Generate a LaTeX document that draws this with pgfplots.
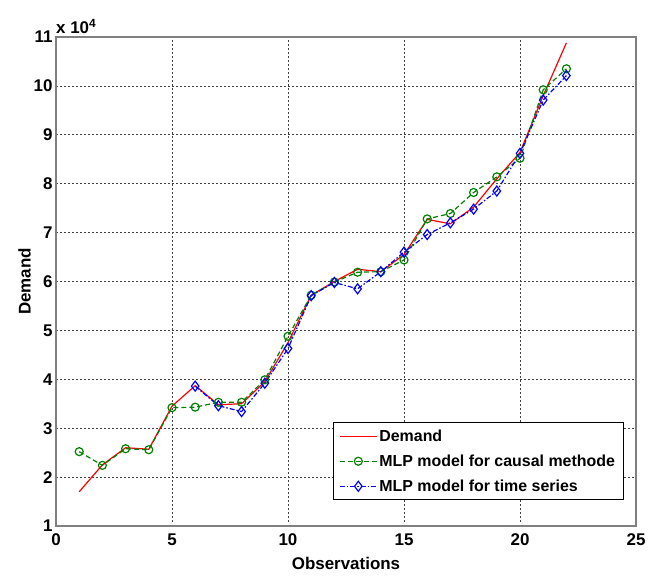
\documentclass[border=0pt]{standalone}
\usepackage{pgfplots}
\pgfplotsset{compat=1.18}
\usetikzlibrary{calc}
\usepackage{fontspec}
\setmainfont{Liberation Sans}
\definecolor{mgreen}{RGB}{0,128,0}
\begin{document}
\begin{tikzpicture}
\begin{axis}[
    name=ax,
    scale only axis,
    width=580bp, height=489bp,
    xmin=0, xmax=25, ymin=1, ymax=11,
    xtick={0,5,...,25}, ytick={1,2,...,11},
    /pgf/number format/assume math mode=true,
    ticklabel style={font=\fontsize{17}{20}\selectfont\bfseries},
    xticklabel style={yshift=-4bp},
    major tick length=0pt,
    axis line style={gray, line width=1.2bp},
    grid=major,
    major grid style={black!75, line width=0.7bp, dash pattern=on 1.5bp off 2.5bp},
    xlabel={Observations}, ylabel={Demand},
    label style={font=\fontsize{17}{20}\selectfont\bfseries},
    xlabel style={yshift=-5bp},
    ylabel style={yshift=-4bp},
    legend cell align=left,
    legend style={at={(rel axis cs:0.978,0.053)}, anchor=south east,
        font=\fontsize{16}{19}\selectfont\bfseries, draw=black, line width=0.6bp,
        row sep=8bp, inner xsep=6bp, inner ysep=5bp},
    legend image code/.code={\draw[mark repeat=2,mark phase=2] plot coordinates {(0cm,0cm)(0.65cm,0cm)(1.3cm,0cm)};},
]
\addplot[red, line width=1.2bp] coordinates {
    (1,1.70)(2,2.25)(3,2.60)(4,2.57)(5,3.45)(6,3.87)(7,3.48)(8,3.50)(9,3.95)(10,4.75)
    (11,5.72)(12,6.00)(13,6.25)(14,6.20)(15,6.55)(16,7.27)(17,7.18)(18,7.52)(19,8.10)
    (20,8.64)(21,9.80)(22,10.88)};
\addlegendentry{Demand}
\addplot[mgreen, line width=1.2bp, dash pattern=on 5bp off 3bp, mark=o, mark size=4bp,
    mark options={solid}] coordinates {
    (1,2.52)(2,2.24)(3,2.58)(4,2.56)(5,3.42)(6,3.43)(7,3.53)(8,3.53)(9,3.99)(10,4.88)
    (11,5.72)(12,5.99)(13,6.19)(14,6.20)(15,6.44)(16,7.28)(17,7.39)(18,7.82)(19,8.14)
    (20,8.52)(21,9.92)(22,10.35)};
\addlegendentry{MLP model for causal methode}
\addplot[blue, line width=1.2bp, dash pattern=on 5bp off 2bp on 1.5bp off 2bp, mark=diamond,
    mark size=5bp, mark options={solid}] coordinates {
    (6,3.86)(7,3.46)(8,3.34)(9,3.92)(10,4.63)(11,5.71)(12,5.98)(13,5.85)(14,6.20)
    (15,6.60)(16,6.96)(17,7.20)(18,7.48)(19,7.85)(20,8.62)(21,9.71)(22,10.21)};
\addlegendentry{MLP model for time series}
\end{axis}
\node[anchor=south west, font=\fontsize{17}{20}\selectfont\bfseries, inner sep=0pt]
    at ($(ax.north west)+(0bp,3bp)$) {x 10\textsuperscript{4}};
\pgfresetboundingbox
\path[use as bounding box] ($(ax.south west)+(-56bp,-50bp)$) rectangle ($(ax.north east)+(23bp,37bp)$);
\end{tikzpicture}
\end{document}
